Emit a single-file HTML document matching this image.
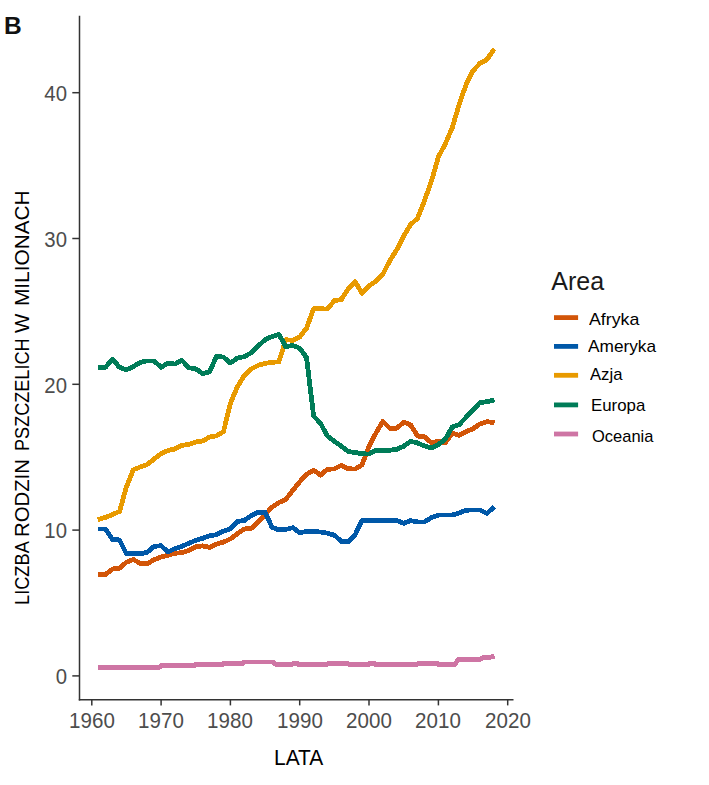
<!DOCTYPE html><html><head><meta charset="utf-8"><style>
html,body{margin:0;padding:0;background:#fff;}
body{width:709px;height:785px;position:relative;overflow:hidden;font-family:"Liberation Sans",sans-serif;}
.t{position:absolute;white-space:nowrap;line-height:1;}
.yt{color:#4D4D4D;font-size:22px;text-align:right;width:40px;left:27.4px;transform-origin:100% 50%;transform:scaleX(0.925);}
.xt{color:#4D4D4D;font-size:22px;text-align:center;width:60px;top:709.5px;transform:scaleX(0.935);}
.lg{color:#000;font-size:17px;transform-origin:0 50%;}
</style></head><body>
<svg width="709" height="785" viewBox="0 0 709 785" style="position:absolute;left:0;top:0">
<polyline points="97.8,574.5 105.6,574.5 112.5,569.0 119.5,568.1 126.4,562.2 133.3,559.5 140.3,563.3 147.2,563.7 154.1,559.7 161.1,556.9 168.0,555.2 174.9,553.3 181.9,552.7 188.8,550.6 195.7,546.8 202.7,545.9 209.6,547.4 216.5,544.2 223.5,542.1 230.4,538.9 237.3,533.7 244.3,529.0 251.2,528.4 258.1,522.0 265.1,514.6 272.0,507.2 278.9,502.6 285.8,499.4 292.8,490.3 299.7,481.8 306.6,474.4 313.6,470.2 320.5,475.1 327.4,469.3 334.4,468.9 341.3,465.3 348.2,468.7 355.2,469.1 362.1,464.8 369.0,446.2 376.0,433.0 382.9,421.3 389.8,428.2 396.8,428.2 403.7,422.3 410.6,424.8 417.6,436.1 424.5,436.7 431.4,442.8 438.4,441.3 445.3,442.8 452.2,432.9 459.1,435.4 466.1,431.6 473.0,428.8 479.9,423.9 486.9,421.7 494.6,422.8" fill="none" stroke="#D25508" stroke-width="4.8" stroke-linejoin="round" stroke-linecap="butt" shape-rendering="crispEdges"/>
<polyline points="97.8,529.0 105.6,529.0 112.5,539.4 119.5,540.0 126.4,553.8 133.3,553.8 140.3,553.8 147.2,552.3 154.1,546.4 161.1,545.7 168.0,552.1 174.9,548.5 181.9,546.4 188.8,543.2 195.7,540.4 202.7,538.3 209.6,535.8 216.5,534.7 223.5,531.1 230.4,529.0 237.3,521.4 244.3,520.5 251.2,515.7 258.1,512.1 265.1,512.1 272.0,527.3 278.9,529.9 285.8,529.4 292.8,527.7 299.7,532.6 306.6,531.5 313.6,531.5 320.5,532.0 327.4,533.2 334.4,535.1 341.3,541.5 348.2,542.0 355.2,534.5 362.1,520.5 369.0,520.5 376.0,520.5 382.9,520.5 389.8,520.5 396.8,520.5 403.7,523.4 410.6,520.6 417.6,521.9 424.5,521.9 431.4,517.7 438.4,515.0 445.3,515.0 452.2,515.0 459.1,513.0 466.1,510.2 473.0,510.0 479.9,510.0 486.9,513.4 494.4,506.7" fill="none" stroke="#0058A8" stroke-width="4.8" stroke-linejoin="round" stroke-linecap="butt" shape-rendering="crispEdges"/>
<polyline points="97.8,519.8 105.6,517.3 112.5,514.6 119.5,511.4 126.4,487.1 133.3,469.8 140.3,467.0 147.2,464.5 154.1,459.0 161.1,453.7 168.0,450.5 174.9,449.0 181.9,445.4 188.8,444.4 195.7,442.0 202.7,441.0 209.6,437.0 216.5,435.9 223.5,431.7 230.4,403.4 237.3,386.9 244.3,375.4 251.2,369.0 258.1,365.4 265.1,363.3 272.0,362.3 278.9,361.8 285.8,339.7 292.8,340.3 299.7,337.0 306.6,328.1 313.6,308.7 320.5,308.7 327.4,309.1 334.4,300.7 341.3,299.6 348.2,288.8 355.2,281.8 362.1,293.3 369.0,285.9 376.0,281.0 382.9,274.2 389.8,260.6 396.8,249.6 403.7,236.0 410.6,224.6 417.6,218.3 424.5,200.6 431.4,181.2 438.4,157.0 445.3,143.8 452.2,127.9 459.1,104.6 466.1,84.5 473.0,70.8 479.9,63.4 486.9,59.6 494.3,48.9" fill="none" stroke="#E89A00" stroke-width="4.8" stroke-linejoin="round" stroke-linecap="butt" shape-rendering="crispEdges"/>
<polyline points="97.8,367.2 105.6,367.2 112.5,359.2 119.5,367.3 126.4,369.8 133.3,366.6 140.3,362.4 147.2,360.9 154.1,360.9 161.1,367.3 168.0,363.0 174.9,364.1 181.9,360.3 188.8,367.7 195.7,368.8 202.7,373.6 209.6,371.9 216.5,356.1 223.5,357.1 230.4,363.0 237.3,358.1 244.3,356.6 251.2,352.8 258.1,346.1 265.1,339.7 272.0,336.5 278.9,334.4 285.8,346.7 292.8,345.4 299.7,348.2 306.6,357.7 313.6,415.9 320.5,423.3 327.4,436.0 334.4,441.4 341.3,446.2 348.2,451.5 355.2,452.5 362.1,453.8 369.0,454.0 376.0,450.2 382.9,450.2 389.8,450.2 396.8,449.3 403.7,446.3 410.6,441.3 417.6,443.0 424.5,446.0 431.4,448.1 438.4,444.5 445.3,439.2 452.2,427.0 459.1,424.6 466.1,417.3 473.0,410.2 479.9,402.6 486.9,401.7 494.6,400.0" fill="none" stroke="#007C58" stroke-width="4.8" stroke-linejoin="round" stroke-linecap="butt" shape-rendering="crispEdges"/>
<polyline points="97.8,667.2 159.8,667.2 161.0,665.7 194.0,665.7 195.2,664.8 222.1,664.8 223.3,663.7 242.8,663.7 244.0,661.9 272.4,661.9 276.6,664.8 291.8,664.8 293.0,663.7 297.7,663.7 298.9,664.8 326.6,664.8 327.8,663.7 348.0,663.7 349.2,664.8 368.0,664.8 369.2,663.4 374.7,663.4 375.9,664.8 416.8,664.8 418.0,663.7 437.6,663.7 438.8,664.8 454.4,664.8 458.8,659.2 480.6,659.2 482.5,657.7 486.9,657.7 492.9,656.7 494.6,656.5" fill="none" stroke="#CE75A4" stroke-width="4.8" stroke-linejoin="round" stroke-linecap="butt" shape-rendering="crispEdges"/>
<line x1="79.5" y1="15.8" x2="79.5" y2="700.5" stroke="#333333" stroke-width="1.5"/>
<line x1="78.8" y1="699.8" x2="513.5" y2="699.8" stroke="#333333" stroke-width="1.5"/>
<line x1="72.3" y1="675.9" x2="79.5" y2="675.9" stroke="#333333" stroke-width="1.5"/>
<line x1="72.3" y1="530.0999999999999" x2="79.5" y2="530.0999999999999" stroke="#333333" stroke-width="1.5"/>
<line x1="72.3" y1="384.3" x2="79.5" y2="384.3" stroke="#333333" stroke-width="1.5"/>
<line x1="72.3" y1="238.5" x2="79.5" y2="238.5" stroke="#333333" stroke-width="1.5"/>
<line x1="72.3" y1="92.7" x2="79.5" y2="92.7" stroke="#333333" stroke-width="1.5"/>
<line x1="91.8" y1="699.8" x2="91.8" y2="705.4" stroke="#333333" stroke-width="1.5"/>
<line x1="161.1" y1="699.8" x2="161.1" y2="705.4" stroke="#333333" stroke-width="1.5"/>
<line x1="230.4" y1="699.8" x2="230.4" y2="705.4" stroke="#333333" stroke-width="1.5"/>
<line x1="299.7" y1="699.8" x2="299.7" y2="705.4" stroke="#333333" stroke-width="1.5"/>
<line x1="369.0" y1="699.8" x2="369.0" y2="705.4" stroke="#333333" stroke-width="1.5"/>
<line x1="438.4" y1="699.8" x2="438.4" y2="705.4" stroke="#333333" stroke-width="1.5"/>
<line x1="507.7" y1="699.8" x2="507.7" y2="705.4" stroke="#333333" stroke-width="1.5"/>
<line x1="554" y1="317.6" x2="578.1" y2="317.6" stroke="#D25508" stroke-width="4.8"/>
<line x1="554" y1="346.4" x2="578.1" y2="346.4" stroke="#0058A8" stroke-width="4.8"/>
<line x1="554" y1="375.3" x2="578.1" y2="375.3" stroke="#E89A00" stroke-width="4.8"/>
<line x1="554" y1="404.9" x2="578.1" y2="404.9" stroke="#007C58" stroke-width="4.8"/>
<line x1="554" y1="434.0" x2="578.1" y2="434.0" stroke="#CE75A4" stroke-width="4.8"/>
</svg>
<div class="t" style="left:3.9px;top:13.7px;font-size:24.5px;font-weight:bold;color:#111;transform-origin:0 0;transform:scaleX(1.0)">B</div>
<div class="t yt" style="top:666.2px">0</div>
<div class="t yt" style="top:520.4px">10</div>
<div class="t yt" style="top:374.6px">20</div>
<div class="t yt" style="top:228.8px">30</div>
<div class="t yt" style="top:83.0px">40</div>
<div class="t xt" style="left:61.7px">1960</div>
<div class="t xt" style="left:131.0px">1970</div>
<div class="t xt" style="left:200.3px">1980</div>
<div class="t xt" style="left:269.6px">1990</div>
<div class="t xt" style="left:338.9px">2000</div>
<div class="t xt" style="left:408.2px">2010</div>
<div class="t xt" style="left:477.6px">2020</div>
<div class="t" id="lata" style="left:274.3px;top:747.6px;font-size:21.5px;color:#000;transform-origin:0 0;transform:scaleX(0.975)">LATA</div>
<div class="t" style="left:11.5px;top:605.07px;font-size:20.5px;color:#000;transform-origin:0 0;transform:rotate(-90deg) scaleX(0.8887)">LICZBA</div>
<div class="t" style="left:11.5px;top:536.87px;font-size:20.5px;color:#000;transform-origin:0 0;transform:rotate(-90deg) scaleX(0.9917)">RODZIN</div>
<div class="t" style="left:11.5px;top:451.16px;font-size:20.5px;color:#000;transform-origin:0 0;transform:rotate(-90deg) scaleX(0.8825)">PSZCZELICH</div>
<div class="t" style="left:11.5px;top:333.00px;font-size:20.5px;color:#000;transform-origin:0 0;transform:rotate(-90deg) scaleX(1.0039)">W</div>
<div class="t" style="left:11.5px;top:305.69px;font-size:20.5px;color:#000;transform-origin:0 0;transform:rotate(-90deg) scaleX(1.0154)">MILIONACH</div>
<div class="t" id="area" style="left:551.3px;top:269px;font-size:25px;color:#1a1a1a">Area</div>
<div class="t lg" id="lgAfryka" style="left:589.4px;top:310.7px;transform:scaleX(1.045)">Afryka</div>
<div class="t lg" id="lgAmeryka" style="left:588.2px;top:337.8px;transform:scaleX(1.015)">Ameryka</div>
<div class="t lg" id="lgAzja" style="left:590.2px;top:366.3px;transform:scaleX(0.98)">Azja</div>
<div class="t lg" id="lgEuropa" style="left:591.4px;top:396.9px;transform:scaleX(0.99)">Europa</div>
<div class="t lg" id="lgOceania" style="left:591.6px;top:427.7px;transform:scaleX(0.97)">Oceania</div>
</body></html>
